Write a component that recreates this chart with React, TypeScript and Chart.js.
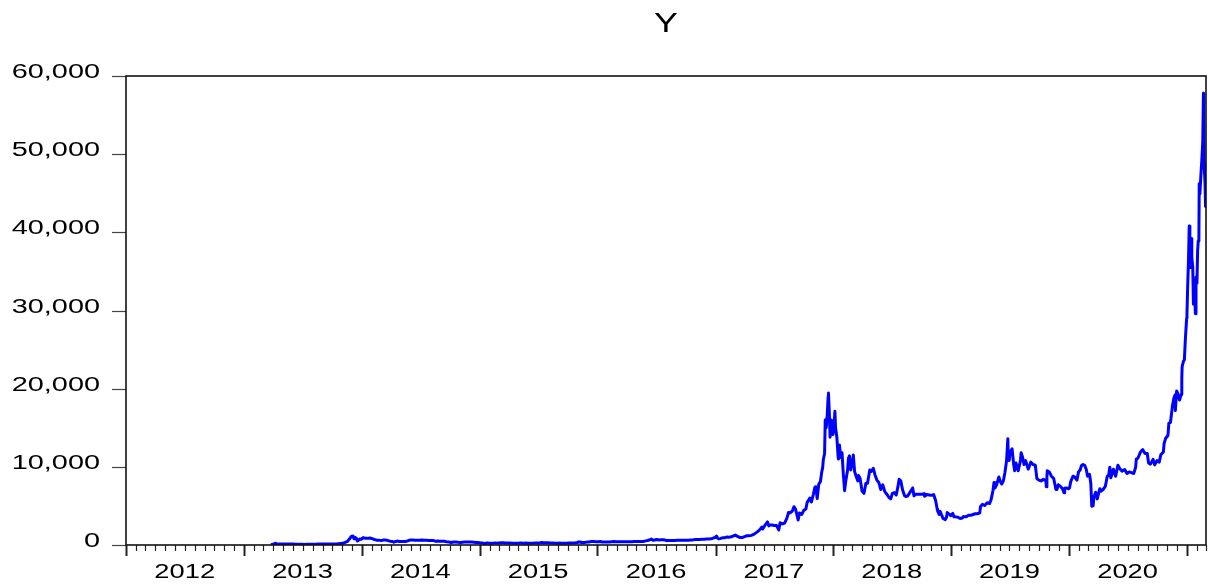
import { useEffect, useRef } from "react";
import { Chart, registerables } from "chart.js";

Chart.register(...registerables);

// ---- Data: Y (daily close at roughly weekly resolution) ----
const y2013: [string, number][] = [
  ["03-25", 75], ["04-01", 105], ["04-09", 230], ["04-12", 120], ["04-20", 125], ["04-28", 135],
  ["05-05", 115], ["05-12", 117], ["05-19", 122], ["05-26", 133], ["06-02", 122], ["06-09", 100],
  ["06-16", 100], ["06-23", 103], ["06-30", 97], ["07-07", 70], ["07-14", 98], ["07-21", 90],
  ["07-28", 95], ["08-04", 105], ["08-11", 106], ["08-18", 113], ["08-25", 118], ["09-01", 140],
  ["09-15", 128], ["09-29", 142], ["10-06", 125], ["10-13", 140], ["10-20", 170], ["10-27", 190],
  ["11-03", 215], ["11-10", 330], ["11-17", 460], ["11-19", 550], ["11-24", 800], ["11-30", 1130],
  ["12-04", 1150], ["12-08", 800], ["12-10", 980], ["12-15", 860], ["12-18", 520], ["12-22", 620],
  ["12-26", 770], ["12-31", 750],
];
const y2014: [string, number][] = [
  ["01-05", 950], ["01-12", 850], ["01-19", 850], ["01-26", 900], ["02-02", 820], ["02-09", 700],
  ["02-16", 620], ["02-23", 620], ["03-02", 560], ["03-09", 640], ["03-16", 630], ["03-23", 560],
  ["03-30", 480], ["04-06", 450], ["04-10", 360], ["04-13", 420], ["04-20", 500], ["04-27", 440],
  ["05-04", 440], ["05-11", 440], ["05-18", 450], ["05-25", 570], ["06-01", 630], ["06-08", 650],
  ["06-15", 600], ["06-22", 600], ["06-29", 600], ["07-06", 630], ["07-13", 620], ["07-20", 620],
  ["07-27", 590], ["08-03", 590], ["08-10", 590], ["08-18", 470], ["08-24", 510], ["08-31", 480],
  ["09-07", 480], ["09-14", 475], ["09-21", 400], ["09-28", 380], ["10-05", 320], ["10-12", 390],
  ["10-19", 380], ["10-26", 350], ["11-02", 330], ["11-09", 360], ["11-16", 390], ["11-23", 370],
  ["11-30", 380], ["12-07", 375], ["12-14", 350], ["12-21", 320], ["12-28", 315],
];
const y2015: [string, number][] = [
  ["01-04", 265], ["01-11", 270], ["01-14", 180], ["01-18", 210], ["01-25", 250], ["02-01", 225],
  ["02-08", 225], ["02-15", 240], ["02-22", 240], ["03-01", 260], ["03-08", 275], ["03-15", 285],
  ["03-22", 265], ["03-29", 250], ["04-05", 255], ["04-12", 235], ["04-19", 225], ["04-26", 220],
  ["05-03", 240], ["05-10", 240], ["05-17", 235], ["05-24", 240], ["05-31", 230], ["06-07", 225],
  ["06-14", 235], ["06-21", 245], ["06-28", 250], ["07-05", 270], ["07-12", 310], ["07-19", 275],
  ["07-26", 290], ["08-02", 280], ["08-09", 265], ["08-16", 260], ["08-23", 230], ["08-30", 230],
  ["09-06", 240], ["09-13", 230], ["09-20", 230], ["09-27", 235], ["10-04", 240], ["10-11", 245],
  ["10-18", 265], ["10-25", 290], ["11-01", 325], ["11-04", 400], ["11-08", 375], ["11-11", 305],
  ["11-15", 320], ["11-22", 325], ["11-29", 370], ["12-06", 390], ["12-13", 435], ["12-20", 440],
  ["12-27", 420],
];
const y2016: [string, number][] = [
  ["01-03", 430], ["01-10", 450], ["01-15", 380], ["01-24", 400], ["01-31", 380], ["02-07", 375],
  ["02-14", 405], ["02-21", 435], ["02-28", 430], ["03-06", 410], ["03-13", 415], ["03-20", 410],
  ["03-27", 420], ["04-03", 420], ["04-10", 420], ["04-17", 430], ["04-24", 460], ["05-01", 450],
  ["05-08", 460], ["05-15", 455], ["05-22", 440], ["05-29", 530], ["06-05", 575], ["06-12", 680],
  ["06-16", 760], ["06-22", 590], ["06-26", 630], ["07-03", 700], ["07-10", 650], ["07-17", 680],
  ["07-24", 660], ["07-31", 620], ["08-02", 545], ["08-07", 590], ["08-14", 570], ["08-21", 580],
  ["08-28", 575], ["09-04", 610], ["09-11", 605], ["09-18", 610], ["09-25", 600], ["10-02", 610],
  ["10-09", 620], ["10-16", 640], ["10-23", 655], ["10-30", 700], ["11-06", 710], ["11-13", 700],
  ["11-20", 730], ["11-27", 730], ["12-04", 765], ["12-11", 770], ["12-18", 790], ["12-25", 890],
  ["12-31", 960],
];
const y2017: [string, number][] = [
  ["01-04", 1150], ["01-07", 900], ["01-11", 780], ["01-15", 820], ["01-22", 920], ["01-29", 920],
  ["02-05", 1030], ["02-12", 1000], ["02-19", 1050], ["02-26", 1180], ["03-03", 1270], ["03-10", 1100],
  ["03-18", 960], ["03-25", 960], ["04-01", 1080], ["04-08", 1180], ["04-15", 1180], ["04-22", 1230],
  ["04-29", 1350], ["05-06", 1550], ["05-13", 1750], ["05-20", 2050], ["05-25", 2300], ["05-27", 2050],
  ["06-03", 2500], ["06-11", 2950], ["06-15", 2450], ["06-18", 2550], ["06-25", 2550], ["07-02", 2500],
  ["07-09", 2500], ["07-16", 1930], ["07-20", 2850], ["07-27", 2700], ["08-03", 2800], ["08-10", 3400],
  ["08-15", 4150], ["08-20", 4100], ["08-27", 4350], ["09-01", 4900], ["09-06", 4600], ["09-14", 3200],
  ["09-18", 4100], ["09-25", 3900], ["10-01", 4400], ["10-08", 4600], ["10-12", 5450], ["10-16", 5700],
  ["10-20", 6000], ["10-25", 5500], ["10-31", 6450], ["11-05", 7400], ["11-08", 7450], ["11-12", 5950],
  ["11-17", 7800], ["11-22", 8100], ["11-26", 9300], ["11-29", 9900], ["12-01", 10900], ["12-05", 11700],
  ["12-07", 16000], ["12-10", 15000], ["12-13", 16500], ["12-16", 19000], ["12-17", 19450], ["12-20", 16600],
  ["12-22", 13800], ["12-26", 16000], ["12-29", 14600], ["12-31", 14150],
];
const y2018: [string, number][] = [
  ["01-03", 15200], ["01-06", 17100], ["01-08", 15000], ["01-12", 13800], ["01-16", 11200], ["01-17", 11000],
  ["01-20", 12800], ["01-24", 11200], ["01-28", 11800], ["02-01", 9100], ["02-05", 6950], ["02-09", 8300],
  ["02-14", 9500], ["02-17", 11100], ["02-20", 11400], ["02-24", 9600], ["02-28", 10400], ["03-04", 11500],
  ["03-08", 9400], ["03-12", 8900], ["03-18", 8200], ["03-20", 8900], ["03-25", 8500], ["03-31", 6900],
  ["04-06", 6600], ["04-12", 7900], ["04-17", 7900], ["04-24", 9600], ["04-28", 9400], ["05-05", 9800],
  ["05-10", 9000], ["05-16", 8300], ["05-22", 8000], ["05-28", 7100], ["06-03", 7700], ["06-10", 6800],
  ["06-16", 6500], ["06-22", 6100], ["06-28", 5900], ["07-03", 6600], ["07-09", 6700], ["07-15", 6400],
  ["07-20", 7400], ["07-24", 8400], ["07-29", 8200], ["08-04", 7000], ["08-10", 6300], ["08-14", 6200],
  ["08-20", 6300], ["08-26", 6700], ["09-04", 7300], ["09-08", 6300], ["09-14", 6500], ["09-20", 6500],
  ["09-26", 6500], ["10-03", 6500], ["10-10", 6550], ["10-11", 6250], ["10-18", 6450], ["10-25", 6400],
  ["11-01", 6350], ["11-08", 6450], ["11-14", 5700], ["11-19", 4600], ["11-20", 4400], ["11-25", 3900],
  ["11-28", 4300], ["12-03", 3800], ["12-07", 3400], ["12-14", 3250], ["12-18", 3550], ["12-20", 4150],
  ["12-24", 4000], ["12-28", 3900], ["12-31", 3750],
];
const y2019: [string, number][] = [
  ["01-06", 4050], ["01-10", 3600], ["01-15", 3600], ["01-22", 3550], ["01-29", 3400], ["02-05", 3450],
  ["02-08", 3650], ["02-16", 3600], ["02-24", 3800], ["03-03", 3800], ["03-10", 3900], ["03-17", 4000],
  ["03-24", 4000], ["03-31", 4100], ["04-02", 4900], ["04-08", 5200], ["04-15", 5050], ["04-23", 5400],
  ["04-30", 5300], ["05-05", 5800], ["05-11", 7000], ["05-14", 8000], ["05-17", 7300], ["05-22", 7700],
  ["05-29", 8700], ["06-03", 8100], ["06-07", 7800], ["06-12", 8200], ["06-17", 9300], ["06-22", 10800],
  ["06-26", 13600], ["06-27", 11200], ["06-30", 10800], ["07-03", 11900], ["07-09", 12300], ["07-14", 10300],
  ["07-17", 9500], ["07-21", 10500], ["07-28", 9500], ["08-04", 10800], ["08-06", 11800], ["08-10", 11300],
  ["08-15", 10300], ["08-20", 10800], ["08-28", 9700], ["09-05", 10600], ["09-12", 10300], ["09-19", 10200],
  ["09-24", 8500], ["09-30", 8300], ["10-07", 8200], ["10-14", 8400], ["10-22", 8200], ["10-23", 7450],
  ["10-25", 8700], ["10-26", 9500], ["11-02", 9300], ["11-08", 8800], ["11-15", 8500], ["11-22", 7100],
  ["11-25", 7100], ["11-29", 7700], ["12-06", 7500], ["12-12", 7200], ["12-17", 6700], ["12-19", 7250],
  ["12-24", 7300], ["12-31", 7200],
];
const y2020: [string, number][] = [
  ["01-03", 7300], ["01-07", 8150], ["01-14", 8800], ["01-19", 8700], ["01-26", 8300], ["01-31", 9350],
  ["02-05", 9600], ["02-09", 10150], ["02-13", 10300], ["02-19", 10200], ["02-24", 9650], ["02-28", 8800],
  ["03-05", 9050], ["03-09", 7900], ["03-12", 4950], ["03-16", 5000], ["03-19", 6200], ["03-24", 6750],
  ["03-29", 5900], ["04-03", 6750], ["04-06", 7200], ["04-10", 6900], ["04-16", 7100], ["04-23", 7500],
  ["04-29", 8800], ["05-03", 8900], ["05-07", 9950], ["05-10", 8600], ["05-18", 9700], ["05-25", 8800],
  ["06-01", 10200], ["06-08", 9700], ["06-14", 9450], ["06-22", 9650], ["06-29", 9150], ["07-06", 9350],
  ["07-13", 9250], ["07-20", 9150], ["07-26", 9950], ["07-28", 11000], ["08-02", 11100], ["08-10", 11900],
  ["08-17", 12200], ["08-24", 11700], ["08-31", 11700], ["09-04", 10500], ["09-10", 10350], ["09-18", 10950],
  ["09-23", 10250], ["09-30", 10800], ["10-07", 10600], ["10-12", 11550], ["10-20", 11900], ["10-22", 12950],
  ["10-27", 13650], ["11-03", 14000], ["11-06", 15600], ["11-11", 15700], ["11-17", 17800], ["11-21", 18700],
  ["11-25", 19200], ["11-26", 17200], ["11-30", 19700], ["12-03", 19450], ["12-09", 18550], ["12-14", 19250],
  ["12-16", 21300], ["12-17", 22800], ["12-21", 23500], ["12-24", 23700], ["12-27", 26300], ["12-31", 29000],
];
const y2021: [string, number][] = [
  ["01-01", 29400], ["01-03", 32800], ["01-06", 36800], ["01-08", 40800], ["01-10", 38300], ["01-11", 35500],
  ["01-13", 37300], ["01-14", 39200], ["01-16", 36800], ["01-19", 35500], ["01-21", 30800], ["01-22", 33000],
  ["01-25", 32300], ["01-27", 29600], ["01-29", 34300], ["02-01", 33500], ["02-03", 37600], ["02-05", 38900],
  ["02-07", 39300], ["02-08", 46200], ["02-10", 44900], ["02-13", 47200], ["02-16", 49200], ["02-19", 51600],
  ["02-21", 57800], ["02-22", 54200], ["02-23", 48900], ["02-25", 47100], ["02-26", 46300], ["02-27", 46200],
  ["02-28", 43300],
];

const SERIES_BY_YEAR: [number, [string, number][]][] = [
  [2013, y2013], [2014, y2014], [2015, y2015], [2016, y2016], [2017, y2017],
  [2018, y2018], [2019, y2019], [2020, y2020], [2021, y2021],
];

const TITLE = "Y";
const Y_TICKS = [0, 10000, 20000, 30000, 40000, 50000, 60000];
const YEAR_LABELS = [2012, 2013, 2014, 2015, 2016, 2017, 2018, 2019, 2020];
const AXIS_START = "2012-01-01";
const AXIS_END = "2021-03-01";

const DAY_MS = 86400000;
const T0 = Date.parse(AXIS_START + "T00:00:00Z");
const dayOf = (iso: string) => (Date.parse(iso + "T00:00:00Z") - T0) / DAY_MS;

const points = SERIES_BY_YEAR.flatMap(([yr, rows]) =>
  rows.map(([md, v]) => ({ x: dayOf(`${yr}-${md}`), y: v }))
);

const FONT_FAMILY = '"Liberation Sans", Arial, Helvetica, sans-serif';

function stretchedText(
  ctx: CanvasRenderingContext2D,
  text: string,
  x: number,
  y: number,
  align: CanvasTextAlign,
  sx: number
) {
  ctx.save();
  ctx.translate(x, y);
  ctx.scale(sx, 1);
  ctx.textAlign = align;
  ctx.textBaseline = "alphabetic";
  ctx.fillText(text, 0, 0);
  ctx.restore();
}

const eviewsFrame = {
  id: "eviewsFrame",
  afterDraw(chart: any) {
    const { ctx, chartArea: a, scales } = chart;
    const xs = scales.x;
    const ys = scales.y;
    ctx.save();

    // y tick marks (outside, left)
    ctx.strokeStyle = "#444";
    ctx.lineWidth = 1.2;
    Y_TICKS.forEach((v) => {
      const py = Math.round(ys.getPixelForValue(v)) + 0.5;
      ctx.beginPath();
      ctx.moveTo(a.left - 14, py);
      ctx.lineTo(a.left, py);
      ctx.stroke();
    });

    // monthly ticks on x axis
    const endDay = dayOf(AXIS_END);
    for (let yr = 2012; yr <= 2021; yr++) {
      for (let m = 1; m <= 12; m++) {
        const iso = `${yr}-${String(m).padStart(2, "0")}-01`;
        const d = dayOf(iso);
        if (d > endDay + 0.01) break;
        const px = Math.round(xs.getPixelForValue(d)) + 0.5;
        const major = m === 1;
        ctx.strokeStyle = "#222";
        ctx.lineWidth = major ? 2 : 1.2;
        ctx.beginPath();
        ctx.moveTo(px, a.bottom);
        ctx.lineTo(px, a.bottom + (major ? 11 : 6));
        ctx.stroke();
      }
    }

    // frame
    ctx.strokeStyle = "#111";
    ctx.lineWidth = 1.6;
    ctx.strokeRect(a.left, a.top, a.right - a.left, a.bottom - a.top);

    // labels
    ctx.fillStyle = "#000";
    ctx.font = `19.5px ${FONT_FAMILY}`;
    Y_TICKS.forEach((v) => {
      const py = ys.getPixelForValue(v);
      stretchedText(ctx, v.toLocaleString("en-US"), a.left - 26, py + 2, "right", 1.48);
    });
    YEAR_LABELS.forEach((yr) => {
      const px = xs.getPixelForValue(dayOf(`${yr}-07-01`));
      stretchedText(ctx, String(yr), px, a.bottom + 33, "center", 1.4);
    });

    // title
    ctx.font = `27.5px ${FONT_FAMILY}`;
    stretchedText(ctx, TITLE, (a.left + a.right) / 2, 32, "center", 1.3);

    ctx.restore();
  },
};

export default function App() {
  const canvasRef = useRef<HTMLCanvasElement | null>(null);

  useEffect(() => {
    const canvas = canvasRef.current;
    if (!canvas) return;
    const chart = new Chart(canvas, {
      type: "line",
      data: {
        datasets: [
          {
            label: TITLE,
            data: points,
            borderColor: "#0000FF",
            backgroundColor: "#0000FF",
            borderWidth: 3,
            pointRadius: 0,
            tension: 0,
            borderJoinStyle: "round",
            fill: false,
          },
        ],
      },
      options: {
        responsive: false,
        animation: false,
        devicePixelRatio: 1,
        layout: { padding: { left: 126, top: 76, right: 2, bottom: 41 } },
        plugins: {
          legend: { display: false },
          tooltip: { enabled: false },
          title: { display: false },
        },
        scales: {
          x: {
            type: "linear",
            display: false,
            min: 0,
            max: dayOf(AXIS_END),
          },
          y: {
            type: "linear",
            display: false,
            min: 0,
            max: 60000,
          },
        },
      },
      plugins: [eviewsFrame],
    });
    return () => chart.destroy();
  }, []);

  return (
    <div
      style={{
        position: "fixed",
        left: 0,
        top: 0,
        width: 1208,
        height: 586,
        background: "#fff",
      }}
    >
      <canvas ref={canvasRef} width={1208} height={586} style={{ display: "block" }} />
    </div>
  );
}
